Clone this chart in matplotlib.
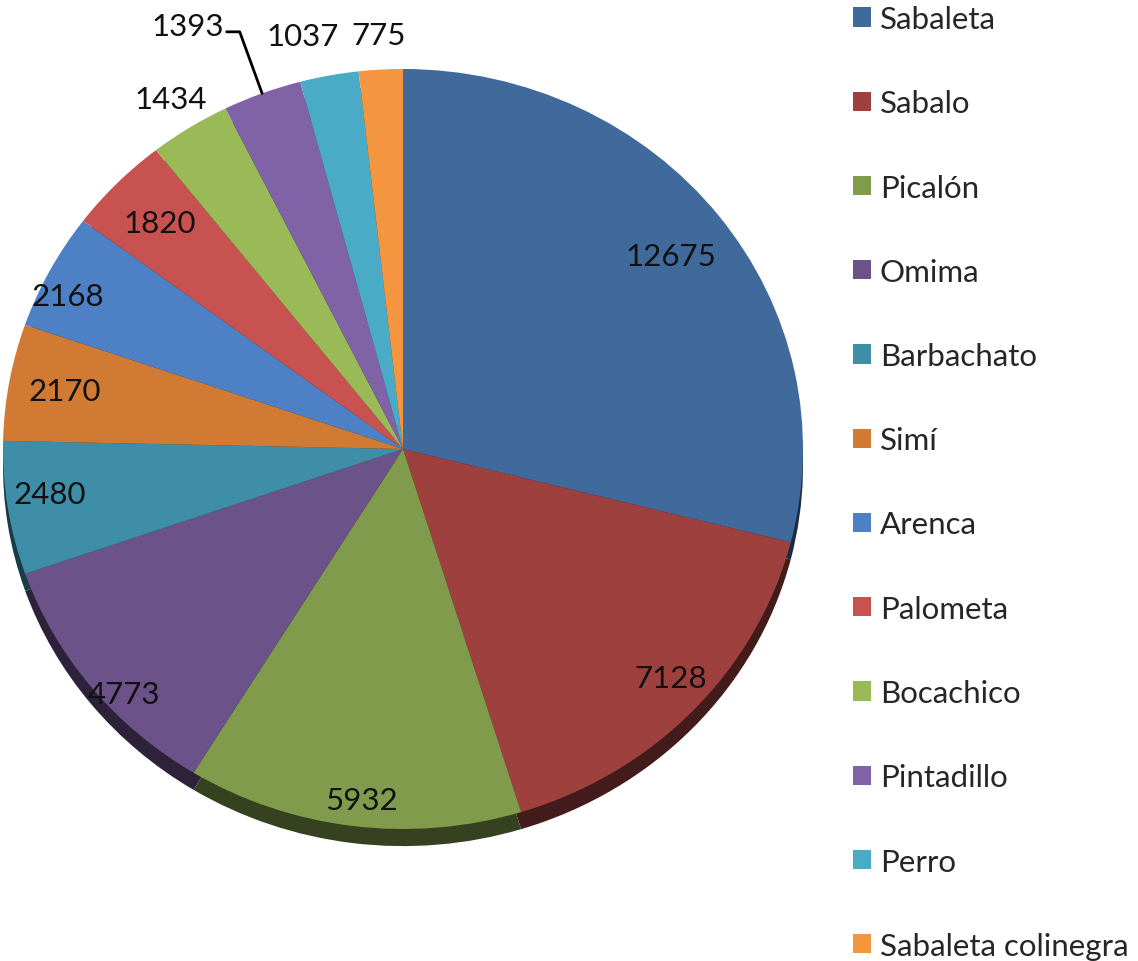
import numpy as np
import matplotlib.pyplot as plt
from matplotlib.colors import to_rgb

species = ['Sabaleta', 'Sabalo', 'Picalón', 'Omima', 'Barbachato', 'Simí',
           'Arenca', 'Palometa', 'Bocachico', 'Pintadillo', 'Perro',
           'Sabaleta colinegra']
counts = [12675, 7128, 5932, 4773, 2480, 2170, 2168, 1820, 1434, 1393, 1037, 775]
colors = ['#40699C', '#9E413E', '#809B4B', '#6B5289', '#3D8EA6', '#D07A33',
          '#4E80C5', '#C85250', '#99BA57', '#8063A6', '#4AABC6', '#F4963F']

# where each value label sits: fraction of radius, and a small angle nudge (deg)
label_r = [0.84, 0.9, 0.93, 0.95, 0.89, 0.86, 0.93, 0.85, 1.09, 1.236, 1.115, 1.09]
label_nudge = [-0.8, 1.5, 0.8, 4, -1.4, 0, 2.3, 0, 0, 5.2, 2.4, 0]

plt.rcParams['font.family'] = ['Lato', 'DejaVu Sans']

fig = plt.figure(figsize=(11.38, 9.62), dpi=100)
# pie face: centre ~(403,450) px, rx 400 px, ry 380 px
ax = fig.add_axes([3 / 1138, (962 - 830) / 962, 800 / 1138, 760 / 962])

# thickness of the 3d pie
dark = [tuple(c * 0.42 for c in to_rgb(col)) for col in colors]
ax.pie(counts, colors=dark, startangle=90, counterclock=False,
       center=(0, -0.045), wedgeprops=dict(linewidth=0, clip_on=False))
wedges, _ = ax.pie(counts, colors=colors, startangle=90, counterclock=False,
                   wedgeprops=dict(linewidth=0, clip_on=False))
ax.set_aspect('auto')
ax.set_xlim(-1, 1)
ax.set_ylim(-1, 1)
ax.axis('off')

for i, w in enumerate(wedges):
    mid = (w.theta1 + w.theta2) / 2
    a = np.deg2rad(mid + label_nudge[i])
    x, y = label_r[i] * np.cos(a), label_r[i] * np.sin(a)
    if counts[i] == 1393:
        m = np.deg2rad(mid)
        ax.annotate(str(counts[i]), xy=(np.cos(m), np.sin(m)), xytext=(x, y),
                    ha='center', va='center', fontsize=22.5, color='#111111',
                    arrowprops=dict(arrowstyle='-', color='black', lw=2,
                                    shrinkA=0, shrinkB=0, relpos=(1, 0.3),
                                    connectionstyle='angle,angleA=0,angleB=110,rad=0'))
    else:
        ax.text(x, y, str(counts[i]), ha='center', va='center', fontsize=22.5,
                color='#111111')

fig.legend(wedges, species, loc='upper left',
           bbox_to_anchor=(853 / 1138, 1 - 6 / 962), frameon=False,
           fontsize=22.5, labelspacing=1.80, handlelength=0.58, handleheight=0.58,
           handletextpad=0.28, borderpad=0, borderaxespad=0, labelcolor='#262626')

fig.savefig('out.png', dpi=100, facecolor='white')
